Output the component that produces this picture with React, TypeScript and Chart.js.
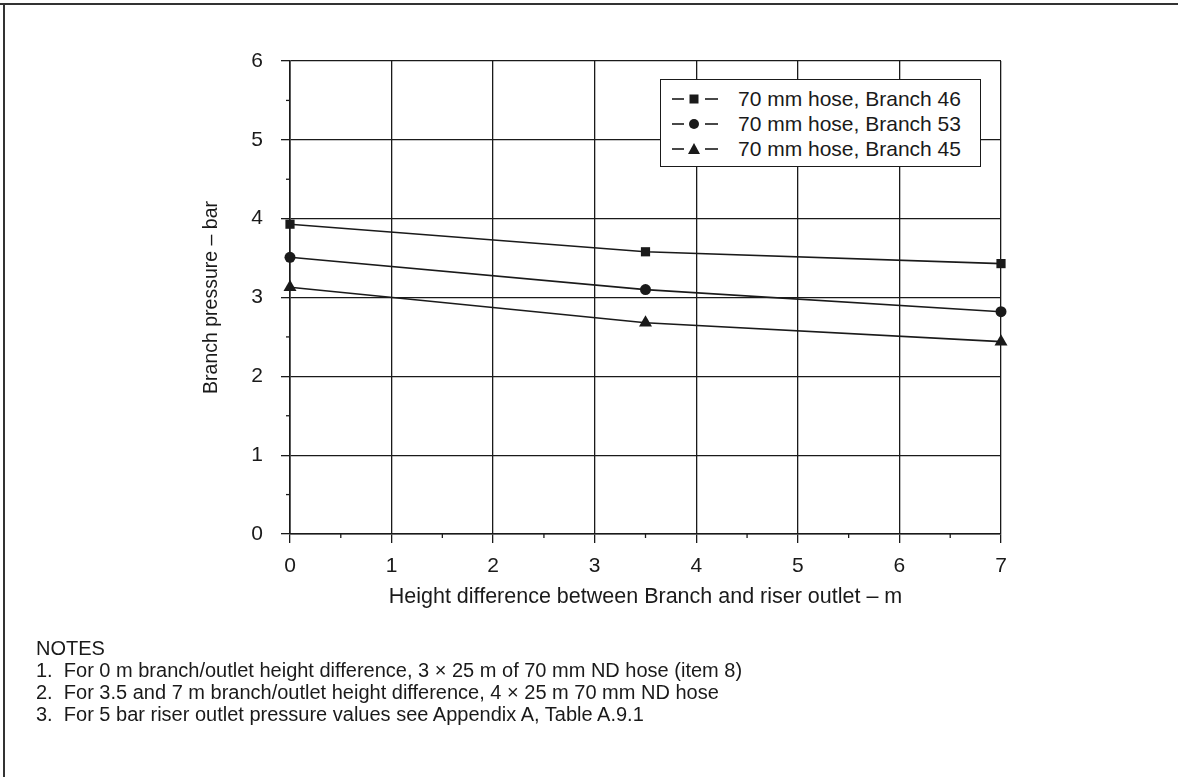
import React, { useEffect, useRef } from "react";
import { Chart, registerables } from "chart.js";

Chart.register(...registerables);

const heightDiff = [0, 3.5, 7];
const branch46 = [3.93, 3.58, 3.43];
const branch53 = [3.51, 3.1, 2.82];
const branch45 = [3.13, 2.68, 2.44];
const seriesLabels = ["70 mm hose, Branch 46", "70 mm hose, Branch 53", "70 mm hose, Branch 45"];
const seriesMarkers = ["rect", "circle", "triangle"];
const xTitle = "Height difference between Branch and riser outlet \u2013 m";
const yTitle = "Branch pressure \u2013 bar";
const notes = [
  "NOTES",
  "1.  For 0 m branch/outlet height difference, 3 \u00d7 25 m of 70 mm ND hose (item 8)",
  "2.  For 3.5 and 7 m branch/outlet height difference, 4 \u00d7 25 m 70 mm ND hose",
  "3.  For 5 bar riser outlet pressure values see Appendix A, Table A.9.1",
];

const FONT = "'Liberation Sans', Arial, Helvetica, sans-serif";
const INK = "#1a1a1a";

const minorTicks = {
  id: "minorTicks",
  afterDraw(chart: any) {
    const ctx = chart.ctx;
    const { x, y } = chart.scales;
    const a = chart.chartArea;
    ctx.save();
    ctx.strokeStyle = INK;
    ctx.lineWidth = 1.3;
    for (let v = 0.5; v < x.max; v += 1) {
      const px = x.getPixelForValue(v);
      ctx.beginPath();
      ctx.moveTo(px, a.bottom);
      ctx.lineTo(px, a.bottom + 4);
      ctx.stroke();
    }
    for (let v = 0.5; v < y.max; v += 1) {
      const py = y.getPixelForValue(v);
      ctx.beginPath();
      ctx.moveTo(a.left, py);
      ctx.lineTo(a.left - 4, py);
      ctx.stroke();
    }
    ctx.restore();
  },
};

function Marker({ kind }: { kind: string }) {
  return (
    <svg width="46" height="14" style={{ display: "block" }}>
      <line x1="0" y1="7" x2="12" y2="7" stroke={INK} strokeWidth="1.6" />
      <line x1="33" y1="7" x2="46" y2="7" stroke={INK} strokeWidth="1.6" />
      {kind === "rect" && <rect x="17.5" y="2.5" width="9" height="9" fill={INK} />}
      {kind === "circle" && <circle cx="22" cy="7" r="5" fill={INK} />}
      {kind === "triangle" && <polygon points="22,1 28,12 16,12" fill={INK} />}
    </svg>
  );
}

export default function App() {
  const ref = useRef<HTMLCanvasElement>(null);
  useEffect(() => {
    if (!ref.current) return;
    const mk = (vals: number[]) => heightDiff.map((x, i) => ({ x, y: vals[i] }));
    const common = {
      borderColor: INK,
      backgroundColor: INK,
      borderWidth: 1.6,
      pointBorderWidth: 0,
      showLine: true,
      tension: 0,
      clip: false,
    };
    const chart = new Chart(ref.current, {
      type: "scatter",
      data: {
        datasets: [
          { ...common, label: seriesLabels[0], data: mk(branch46), pointStyle: seriesMarkers[0], pointRadius: 6.5 },
          { ...common, label: seriesLabels[1], data: mk(branch53), pointStyle: seriesMarkers[1], pointRadius: 5.5 },
          { ...common, label: seriesLabels[2], data: mk(branch45), pointStyle: seriesMarkers[2], pointRadius: 7.5 },
        ],
      },
      options: {
        animation: false,
        responsive: false,
        layout: { padding: { left: 200, top: 61, right: 177, bottom: 167 } },
        plugins: { legend: { display: false }, tooltip: { enabled: false } },
        scales: {
          x: {
            type: "linear",
            min: 0,
            max: 7,
            afterFit: (s: any) => {
              s.height = 76;
            },
            ticks: { stepSize: 1, color: INK, font: { family: FONT, size: 21 }, padding: 11 },
            grid: { color: INK, lineWidth: 1.3, tickLength: 9, tickColor: INK },
            border: { color: INK, width: 1.6 },
            title: { display: true, text: xTitle, color: INK, font: { family: FONT, size: 21.5 }, padding: 0 },
          },
          y: {
            type: "linear",
            min: 0,
            max: 6,
            afterFit: (s: any) => {
              s.width = 90;
            },
            ticks: { stepSize: 1, color: INK, font: { family: FONT, size: 21 }, padding: 18 },
            grid: { color: INK, lineWidth: 1.3, tickLength: 9, tickColor: INK },
            border: { color: INK, width: 1.6 },
            title: { display: true, text: yTitle, color: INK, font: { family: FONT, size: 19.5 }, padding: 0 },
          },
        },
      },
      plugins: [minorTicks],
    } as any);
    return () => chart.destroy();
  }, []);

  return (
    <div style={{ position: "fixed", left: 0, top: 0, width: 1178, height: 777, background: "#fff", overflow: "hidden" }}>
      <canvas ref={ref} width={1178} height={777} style={{ position: "absolute", left: 0, top: 0 }} />
      <div style={{ position: "absolute", left: 0, top: 3, width: 1178, height: 2, background: "#333" }} />
      <div style={{ position: "absolute", left: 3, top: 3, width: 1.5, height: 774, background: "#333" }} />
      <div
        style={{
          position: "absolute",
          left: 660,
          top: 79,
          width: 321,
          height: 88,
          boxSizing: "border-box",
          border: `1.5px solid ${INK}`,
          background: "#fff",
          fontFamily: FONT,
          fontSize: 21,
          color: INK,
        }}
      >
        {seriesLabels.map((l, i) => (
          <div key={l} style={{ position: "absolute", left: 11, top: 7 + i * 25, height: 24, display: "flex", alignItems: "center", whiteSpace: "nowrap" }}>
            <Marker kind={seriesMarkers[i]} />
            <span style={{ marginLeft: 20 }}>{l}</span>
          </div>
        ))}
      </div>
      <div style={{ position: "absolute", left: 36, top: 637, fontFamily: FONT, fontSize: 20, color: INK, lineHeight: "22px", whiteSpace: "pre" }}>
        {notes.map((n) => (
          <div key={n}>{n}</div>
        ))}
      </div>
    </div>
  );
}
